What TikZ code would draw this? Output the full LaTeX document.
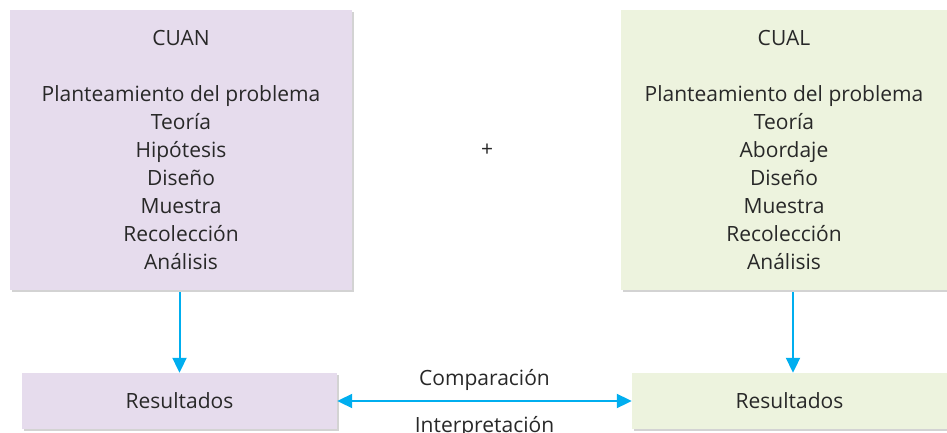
\documentclass[tikz,border=0pt]{standalone}
\usepackage{fontspec}
\setmainfont{Open Sans}
\usetikzlibrary{arrows.meta,shadows}

\definecolor{cuanfill}{RGB}{230,220,237}
\definecolor{cualfill}{RGB}{237,243,222}
\definecolor{flecha}{RGB}{0,174,239}
\definecolor{texto}{RGB}{40,40,40}

\begin{document}
\begin{tikzpicture}[
    x=1pt, y=1pt,
    >={Triangle[width=14pt, length=15pt]},
    every node/.style={font=\fontsize{21}{28}\selectfont, text=texto},
    cuanbox/.style={
        fill=cuanfill, align=center, inner sep=0pt,
        drop shadow={shadow xshift=2pt, shadow yshift=-2pt, opacity=0.35}
    },
    cualbox/.style={
        fill=cualfill, align=center, inner sep=0pt,
        drop shadow={shadow xshift=2pt, shadow yshift=-2pt, opacity=0.35}
    },
    pfeil/.style={flecha, line width=2pt}
]
\useasboundingbox (0,0) rectangle (947,-433);

% ----------------------------------------------------------
% Obere Zeile: CUAN | + | CUAL
% ----------------------------------------------------------
\node[cuanbox, minimum width=342pt, minimum height=280pt] (cuan) at (181, -150)
    {CUAN\\[28pt]Planteamiento del problema\\Teoría\\Hipótesis\\Diseño\\Muestra\\Recolección\\Análisis};

\node (plus) at (487, -150) {+};

\node[cualbox, minimum width=326pt, minimum height=280pt] (cual) at (784, -150)
    {CUAL\\[28pt]Planteamiento del problema\\Teoría\\Abordaje\\Diseño\\Muestra\\Recolección\\Análisis};

% ----------------------------------------------------------
% Untere Zeile: Resultados
% ----------------------------------------------------------
\node[cuanbox, minimum width=315pt, minimum height=56pt] (rescuan) at (179.5, -401) {Resultados};
\node[cualbox, minimum width=315pt, minimum height=56pt] (rescual) at (789.5, -401) {Resultados};

% Pfeile nach unten und Doppelpfeil
\draw[pfeil, ->] (cuan.south -| rescuan.north) ++(0,-2) -- (rescuan.north);
\draw[pfeil, ->] (cual.south -| 793,0) ++(0,-2) -- (rescual.north -| 793,0);
\draw[pfeil, <->] (rescuan.east) -- node[above=6pt] (comp) {Comparación}
    node[below=11pt] (interp) {Interpretación} (rescual.west);

\end{tikzpicture}
\end{document}
